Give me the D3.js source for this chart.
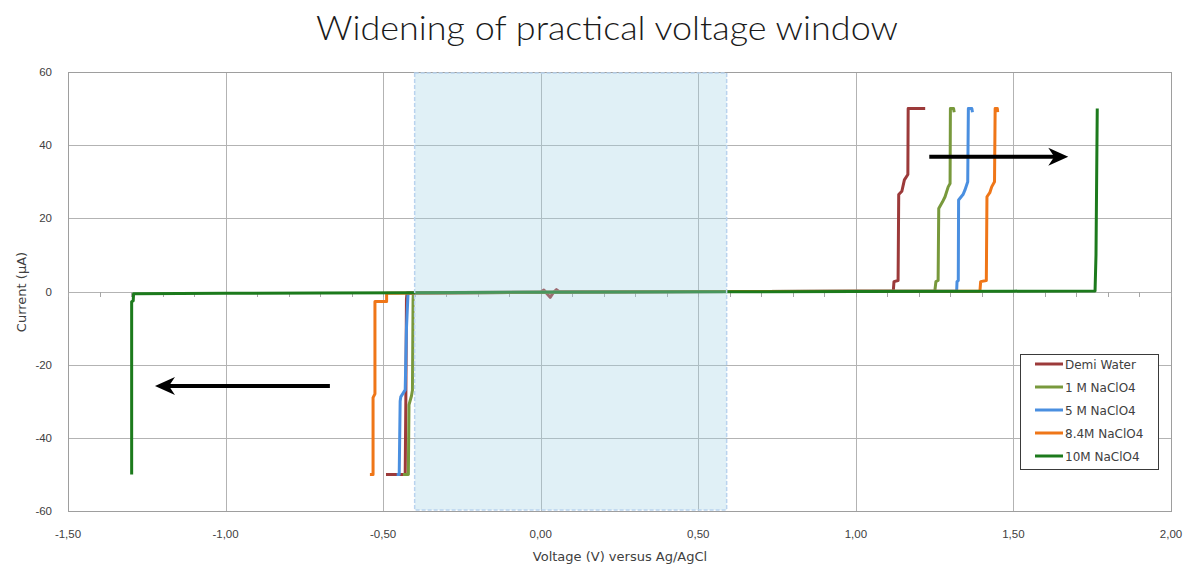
<!DOCTYPE html>
<html><head><meta charset="utf-8">
<script src="https://cdn.jsdelivr.net/npm/d3@7"></script>
<style>body{margin:0;background:#fff}svg{display:block}</style>
</head><body>
<svg id="c" width="1184" height="564"></svg>
<script>
// ---- data ----
const titleText = "Widening of practical voltage window";
const xTitle = "Voltage (V) versus Ag/AgCl";
const yTitle = "Current (µA)";
const xTicks = [-1.5, -1.0, -0.5, 0.0, 0.5, 1.0, 1.5, 2.0];
const yTicks = [-60, -40, -20, 0, 20, 40, 60];
const seriesNames = ["Demi Water", "1 M NaClO4", "5 M NaClO4", "8.4M NaClO4", "10M NaClO4"];
const seriesColors = ["#9c3a3a", "#78993c", "#4a8fe0", "#ef7618", "#1c7a1c"];

const demiWater = [[-0.491,-50],[-0.430,-50],[-0.428,-30],[-0.426,-2],[-0.424,-0.4],[-0.3,-0.3],[-0.1,-0.2],[0.0,-0.2],[0.01,0.4],[0.02,-0.6],[0.03,-1.6],[0.04,-0.3],[0.05,0.5],[0.06,-0.1],[0.3,0],[0.7,0],[1.0,0.1],[1.117,0.1],[1.119,0.4],[1.121,2.7],[1.134,3.0],[1.136,26.5],[1.146,27.4],[1.154,30.5],[1.165,32],[1.166,50],[1.220,50]];
const naclo4_1M = [[-0.437,-50],[-0.420,-50],[-0.418,-31],[-0.410,-28.5],[-0.407,-27],[-0.405,-2],[-0.404,-0.5],[0.0,-0.2],[0.6,0],[1.0,0.1],[1.249,0.1],[1.251,0.4],[1.254,2.7],[1.261,3.0],[1.263,22.7],[1.275,24.5],[1.283,25.9],[1.293,28.6],[1.299,29.5],[1.300,50],[1.310,50],[1.312,49]];
const naclo4_5M = [[-0.457,-50],[-0.449,-50],[-0.446,-30],[-0.444,-28.8],[-0.430,-26.9],[-0.426,-10],[-0.421,-0.5],[0.0,-0.2],[0.6,0],[1.0,0.1],[1.318,0.1],[1.320,0.4],[1.321,2.7],[1.325,3.0],[1.326,25],[1.340,26.5],[1.346,27.7],[1.355,30],[1.357,50],[1.368,50],[1.370,49]];
const naclo4_84M = [[-0.542,-50],[-0.532,-50],[-0.532,-29],[-0.526,-28],[-0.526,-2.7],[-0.489,-2.7],[-0.489,-0.5],[-0.3,-0.4],[0.0,-0.2],[0.6,0],[1.0,0.1],[1.392,0.1],[1.394,0.4],[1.396,2.7],[1.414,3.0],[1.416,25.9],[1.425,27],[1.431,28.6],[1.440,30],[1.442,50],[1.449,50],[1.450,49]];
const naclo4_10M = [[-1.298,-50],[-1.298,-2.8],[-1.293,-2.5],[-1.292,-0.6],[-1.0,-0.5],[-0.7,-0.4],[-0.4,-0.35],[0.0,-0.2],[0.5,-0.1],[1.0,0.0],[1.5,0.1],[1.759,0.15],[1.762,10],[1.766,50]];
const seriesData = [demiWater, naclo4_1M, naclo4_5M, naclo4_84M, naclo4_10M];

const windowRange = [-0.40, 0.59];
const arrowRight = [[1.233, 36.8], [1.674, 36.8]];
const arrowLeft = [[-0.669, -25.8], [-1.224, -25.8]];

// ---- chart ----
const svg = d3.select("#c");
const x = d3.scaleLinear().domain([-1.5, 2.0]).range([68, 1171]);
const y = d3.scaleLinear().domain([-60, 60]).range([511, 72]);
const fmt = v => d3.format(".2f")(v).replace(".", ",").replace("−", "-");

svg.append("text").attr("x", 607).attr("y", 40).attr("text-anchor", "middle")
  .attr("font-family", "Lato, 'Open Sans', sans-serif").attr("font-weight", 300)
  .attr("font-size", 33).attr("fill", "#1a1a1a")
  .attr("textLength", 582).attr("lengthAdjust", "spacingAndGlyphs").text(titleText);

// grid
const grid = svg.append("g").attr("stroke", "#b3b3b3").attr("stroke-width", 1);
grid.selectAll(".gx").data(xTicks).join("line")
  .attr("x1", d => Math.round(x(d)) + 0.5).attr("x2", d => Math.round(x(d)) + 0.5)
  .attr("y1", y(60)).attr("y2", y(-60));
grid.selectAll(".gy").data(yTicks).join("line")
  .attr("y1", d => Math.round(y(d)) + 0.5).attr("y2", d => Math.round(y(d)) + 0.5)
  .attr("x1", x(-1.5)).attr("x2", x(2.0));
svg.append("rect").attr("x", Math.round(x(-1.5)) + 0.5).attr("y", Math.round(y(60)) + 0.5)
  .attr("width", Math.round(x(2.0) - x(-1.5))).attr("height", Math.round(y(-60) - y(60)))
  .attr("fill", "none").attr("stroke", "#9e9e9e");

// minor ticks on x axis at y=0
const minorTicks = d3.range(-15, 21).map(i => i / 10);
svg.append("g").attr("stroke", "#a6a6a6").selectAll("line").data(minorTicks).join("line")
  .attr("x1", d => Math.round(x(d)) + 0.5).attr("x2", d => Math.round(x(d)) + 0.5)
  .attr("y1", Math.round(y(0))).attr("y2", Math.round(y(0)) + 5);

// tick labels
svg.append("g").selectAll("text").data(yTicks).join("text")
  .attr("x", 52).attr("y", d => y(d) + 4).attr("text-anchor", "end")
  .attr("font-family", "'Liberation Sans', Arial, sans-serif").attr("font-size", 11.5)
  .attr("fill", "#404040").text(d => d);
svg.append("g").selectAll("text").data(xTicks).join("text")
  .attr("x", d => x(d)).attr("y", 538).attr("text-anchor", "middle")
  .attr("font-family", "'Liberation Sans', Arial, sans-serif").attr("font-size", 11.5)
  .attr("fill", "#404040").text(d => fmt(d));

// axis titles
svg.append("text").attr("x", 620).attr("y", 561).attr("text-anchor", "middle")
  .attr("font-family", "'DejaVu Sans', sans-serif").attr("font-size", 13)
  .attr("fill", "#404040").text(xTitle);
svg.append("text").attr("transform", "translate(26,292) rotate(-90)").attr("text-anchor", "middle")
  .attr("font-family", "'DejaVu Sans', sans-serif").attr("font-size", 13)
  .attr("fill", "#404040").text(yTitle);

// series
const line = d3.line().x(d => x(d[0])).y(d => y(d[1]));
svg.append("g").selectAll("path").data(seriesData).join("path")
  .attr("d", line).attr("fill", "none")
  .attr("stroke", (d, i) => seriesColors[i]).attr("stroke-width", 3)
  .attr("stroke-linejoin", "round");

// window overlay
svg.append("rect").attr("x", x(windowRange[0])).attr("y", y(60) + 1)
  .attr("width", x(windowRange[1]) - x(windowRange[0])).attr("height", y(-60) - y(60) - 2)
  .attr("fill", "rgb(160,208,228)").attr("fill-opacity", 0.33)
  .attr("stroke", "#b9d3ee").attr("stroke-width", 1.5).attr("stroke-dasharray", "4,2");

// arrows
function arrow(pts) {
  const [a, b] = pts;
  const x1 = x(a[0]), y1 = y(a[1]), x2 = x(b[0]), y2 = y(b[1]);
  const dir = Math.sign(x2 - x1);
  svg.append("line").attr("x1", x1).attr("y1", y1).attr("x2", x2 - dir * 10).attr("y2", y2)
    .attr("stroke", "#000").attr("stroke-width", 4);
  svg.append("path").attr("fill", "#000")
    .attr("d", `M${x2},${y2} L${x2 - dir * 20},${y2 - 9} L${x2 - dir * 14},${y2} L${x2 - dir * 20},${y2 + 9} Z`);
}
arrow(arrowRight);
arrow(arrowLeft);

// legend
const lg = svg.append("g");
lg.append("rect").attr("x", 1020.5).attr("y", 354.5).attr("width", 138).attr("height", 115)
  .attr("fill", "#fff").attr("stroke", "#3a3a3a");
const rows = lg.selectAll("g.r").data(seriesNames).join("g")
  .attr("transform", (d, i) => `translate(0,${364 + i * 23})`);
rows.append("line").attr("x1", 1035).attr("x2", 1063).attr("y1", 0).attr("y2", 0)
  .attr("stroke", (d, i) => seriesColors[i]).attr("stroke-width", 3);
rows.append("text").attr("x", 1065).attr("y", 4.5)
  .attr("font-family", "'DejaVu Sans', sans-serif").attr("font-size", 12)
  .attr("fill", "#404040").text(d => d);
</script>
</body></html>
